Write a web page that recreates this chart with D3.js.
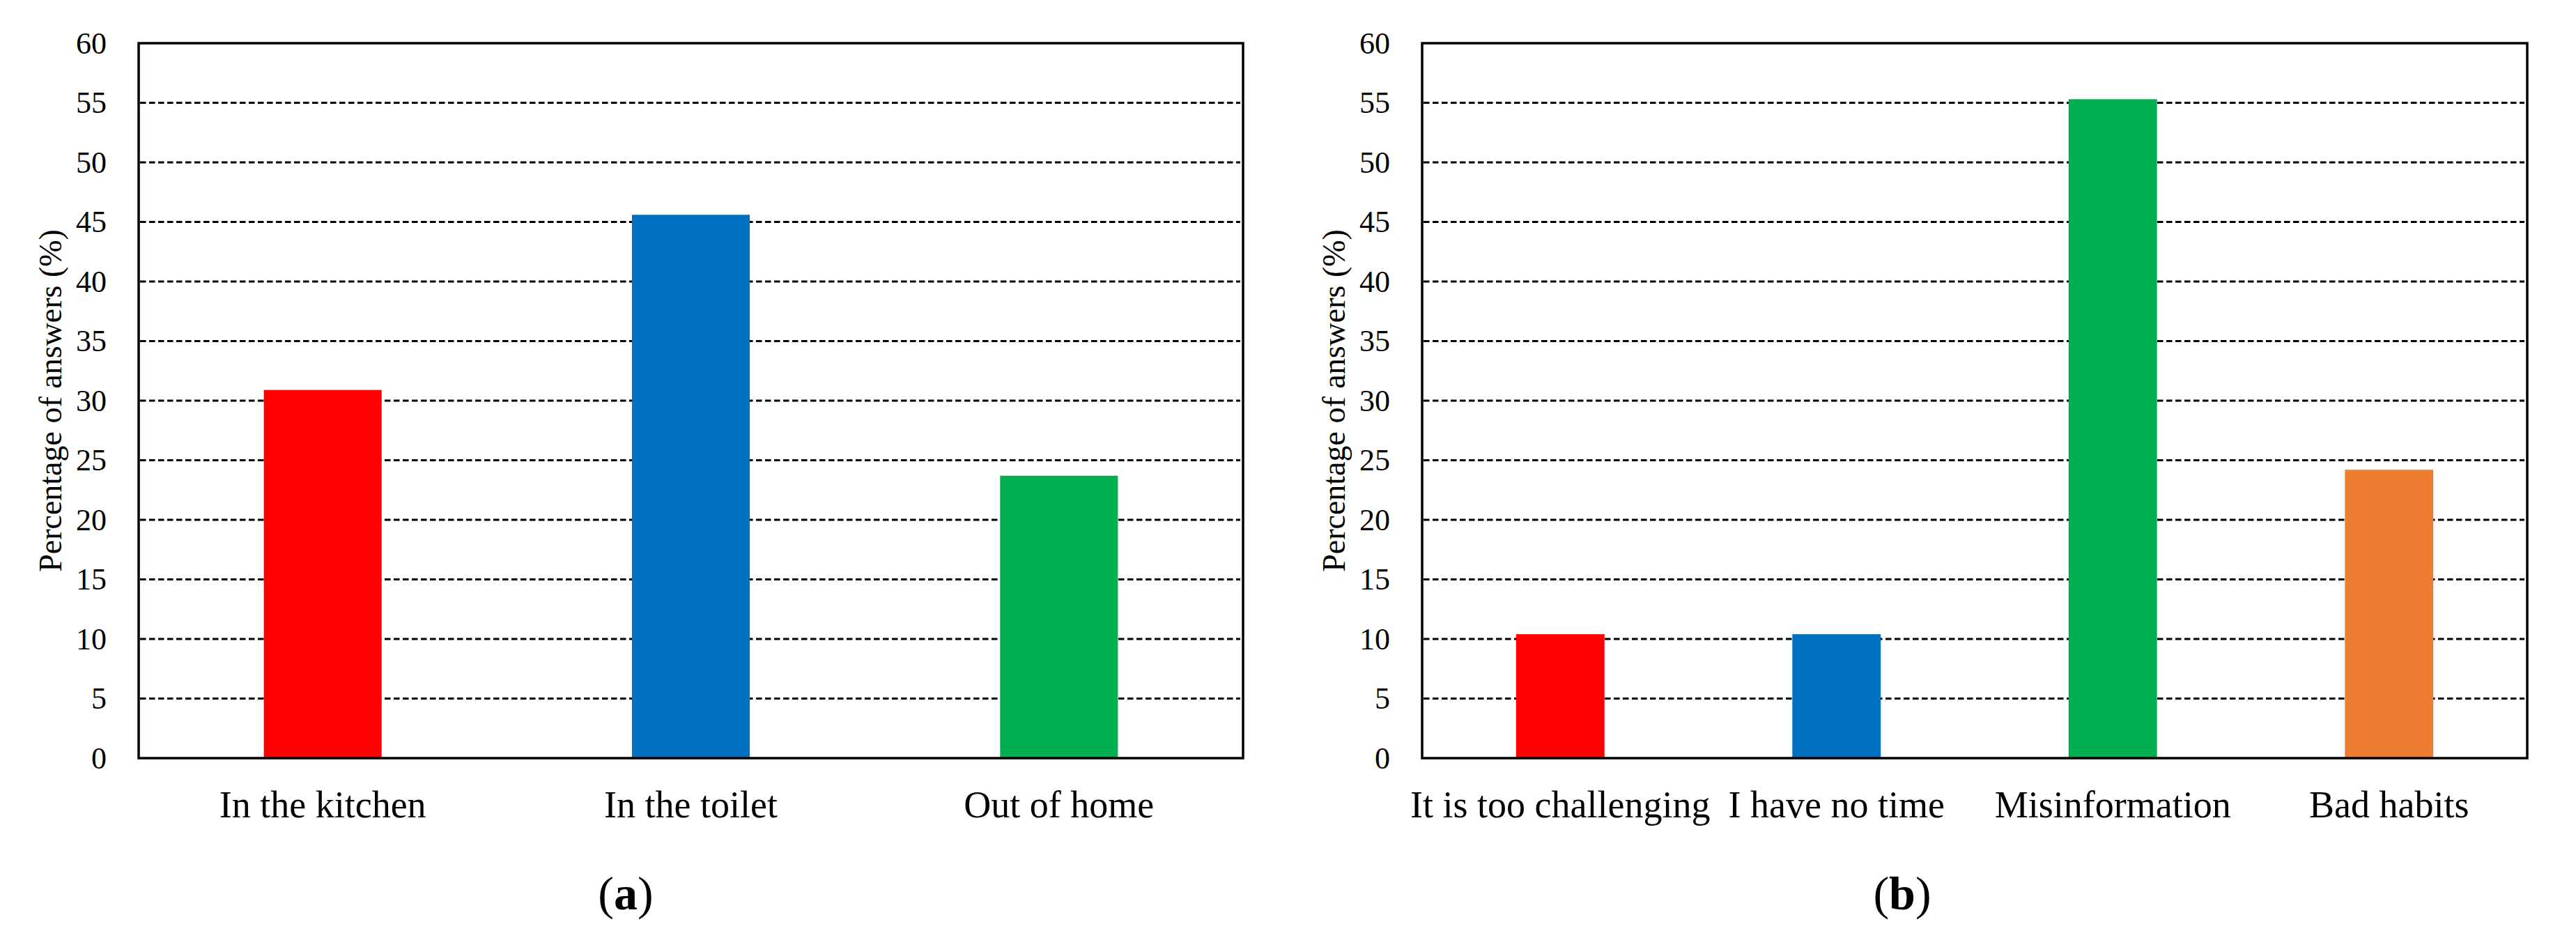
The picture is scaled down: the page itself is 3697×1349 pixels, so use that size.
<!DOCTYPE html>
<html>
<head>
<meta charset="utf-8">
<script src="https://cdn.jsdelivr.net/npm/d3@7/dist/d3.min.js"></script>
<style>
  html, body { margin: 0; padding: 0; background: #ffffff; }
  svg { display: block; }
  text { font-family: "Liberation Serif", "Times New Roman", serif; fill: #000; }
</style>
</head>
<body>
<svg id="chart" width="3697" height="1349"></svg>
<script>
// ---- Data ----
const categoriesA = ["In the kitchen", "In the toilet", "Out of home"];
const valuesA = [30.9, 45.6, 23.7];
const colorsA = ["#FF0000", "#0070C0", "#00B050"];

const categoriesB = ["It is too challenging", "I have no time", "Misinformation", "Bad habits"];
const valuesB = [10.4, 10.4, 55.3, 24.2];
const colorsB = ["#FF0000", "#0070C0", "#00B050", "#ED7D31"];

const yTicks = [0, 5, 10, 15, 20, 25, 30, 35, 40, 45, 50, 55, 60];
const yTitle = "Percentage of answers (%)";
const panelLabels = ["a", "b"];

// ---- Layout ----
const svg = d3.select("#chart");
svg.append("rect").attr("width", 3697).attr("height", 1349).attr("fill", "#fff");

const plotTop = 62, plotBottom = 1088;
const panels = [
  { cats: categoriesA, vals: valuesA, cols: colorsA, x0: 199, x1: 1784, label: panelLabels[0], labelX: 898 },
  { cats: categoriesB, vals: valuesB, cols: colorsB, x0: 2041, x1: 3627, label: panelLabels[1], labelX: 2730 }
];

panels.forEach(p => {
  const g = svg.append("g");
  const x = d3.scaleBand().domain(p.cats).range([p.x0, p.x1]).paddingInner(0.68).paddingOuter(0.34);
  const y = d3.scaleLinear().domain([0, 60]).range([plotBottom, plotTop]);

  // gridlines (dashed)
  g.append("g").selectAll("line")
    .data(yTicks.filter(t => t > 0 && t < 60))
    .join("line")
    .attr("x1", p.x0 + 2).attr("x2", p.x1 - 4)
    .attr("y1", d => y(d)).attr("y2", d => y(d))
    .attr("stroke", "#000").attr("stroke-width", 3)
    .attr("stroke-dasharray", "8.5,4.5");

  // bars
  g.append("g").selectAll("rect")
    .data(p.cats.map((c, i) => ({ c, v: p.vals[i], col: p.cols[i] })))
    .join("rect")
    .attr("x", d => x(d.c))
    .attr("width", x.bandwidth())
    .attr("y", d => y(d.v))
    .attr("height", d => y(0) - y(d.v))
    .attr("fill", d => d.col);

  // frame
  g.append("rect")
    .attr("x", p.x0).attr("y", plotTop)
    .attr("width", p.x1 - p.x0).attr("height", plotBottom - plotTop)
    .attr("fill", "none").attr("stroke", "#000").attr("stroke-width", 3.5);

  // y axis tick labels
  const yAxis = d3.axisLeft(y).tickValues(yTicks).tickSize(0).tickPadding(46).tickFormat(d3.format("d"));
  const ya = g.append("g").attr("transform", `translate(${p.x0},0)`).call(yAxis);
  ya.select(".domain").remove();
  ya.selectAll("text").attr("font-family", "Liberation Serif").attr("font-size", 44).attr("fill", "#000");

  // category labels
  g.append("g").selectAll("text")
    .data(p.cats)
    .join("text")
    .attr("x", d => x(d) + x.bandwidth() / 2)
    .attr("y", 1173)
    .attr("text-anchor", "middle")
    .attr("font-size", 54)
    .text(d => d);

  // y title
  const cy = (plotTop + plotBottom) / 2;
  g.append("text")
    .attr("transform", `translate(${p.x0 - 111},${cy}) rotate(-90)`)
    .attr("text-anchor", "middle")
    .attr("font-size", 46)
    .text(yTitle);

  // panel label
  const t = g.append("text")
    .attr("x", p.labelX).attr("y", 1305)
    .attr("text-anchor", "middle")
    .attr("font-size", 68);
  t.append("tspan").text("(");
  t.append("tspan").attr("font-weight", "bold").text(p.label);
  t.append("tspan").text(")");
});
</script>
</body>
</html>
